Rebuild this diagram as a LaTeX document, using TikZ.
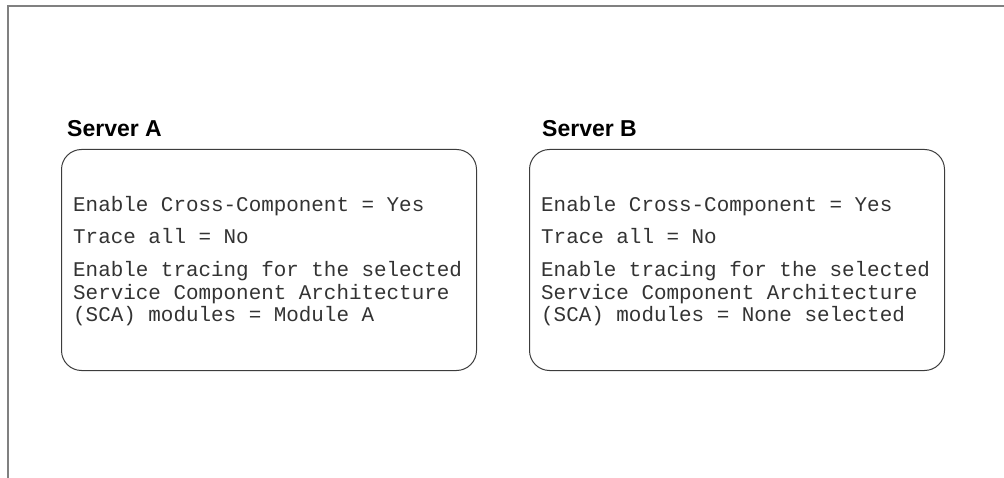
\documentclass[tikz,border=0pt]{standalone}
\usepackage{fontspec}
\setmainfont{Liberation Sans}
\newfontfamily\srvmono{Liberation Mono}
\definecolor{framegray}{RGB}{128,128,128}
\definecolor{boxgray}{RGB}{60,60,60}

\tikzset{
  frameline/.style={draw=framegray,line width=1.6pt},
  serverbox/.style={draw=boxgray,line width=1pt,rounded corners=20pt,
    minimum width=415pt,minimum height=221pt,anchor=north west,inner sep=0pt},
  servertitle/.style={font=\fontsize{23}{26}\selectfont\bfseries,anchor=base west,inner sep=0pt},
  settingtext/.style={font=\srvmono\fontsize{20.9}{22.5}\selectfont,text=black!80,
    anchor=base west,inner sep=0pt}
}

\begin{document}
\begin{tikzpicture}[x=1pt,y=-1pt]
  \useasboundingbox (0,0) rectangle (1004,478);
  % outer frame (top and left edge only)
  \draw[frameline] (1004,6) -- (8,6) -- (8,478);

  \foreach \s/\bx/\tx/\m in {A/61/67/Module A, B/529/542/None selected}{
    \node[servertitle] (title\s) at (\tx,137) {Server \s};
    \node[serverbox] (box\s) at (\bx,149) {};
    \node[settingtext] (cross\s) at (\bx+12,211.5) {Enable Cross-Component = Yes};
    \node[settingtext] (trace\s) at (\bx+12,244) {Trace all = No};
    \node[settingtext] (sca\s) at (\bx+12,277) {Enable tracing for the selected};
    \node[settingtext] (arch\s) at (\bx+12,299.5) {Service Component Architecture};
    \node[settingtext] (module\s) at (\bx+12,322) {(SCA) modules = \m};
  }
\end{tikzpicture}
\end{document}
